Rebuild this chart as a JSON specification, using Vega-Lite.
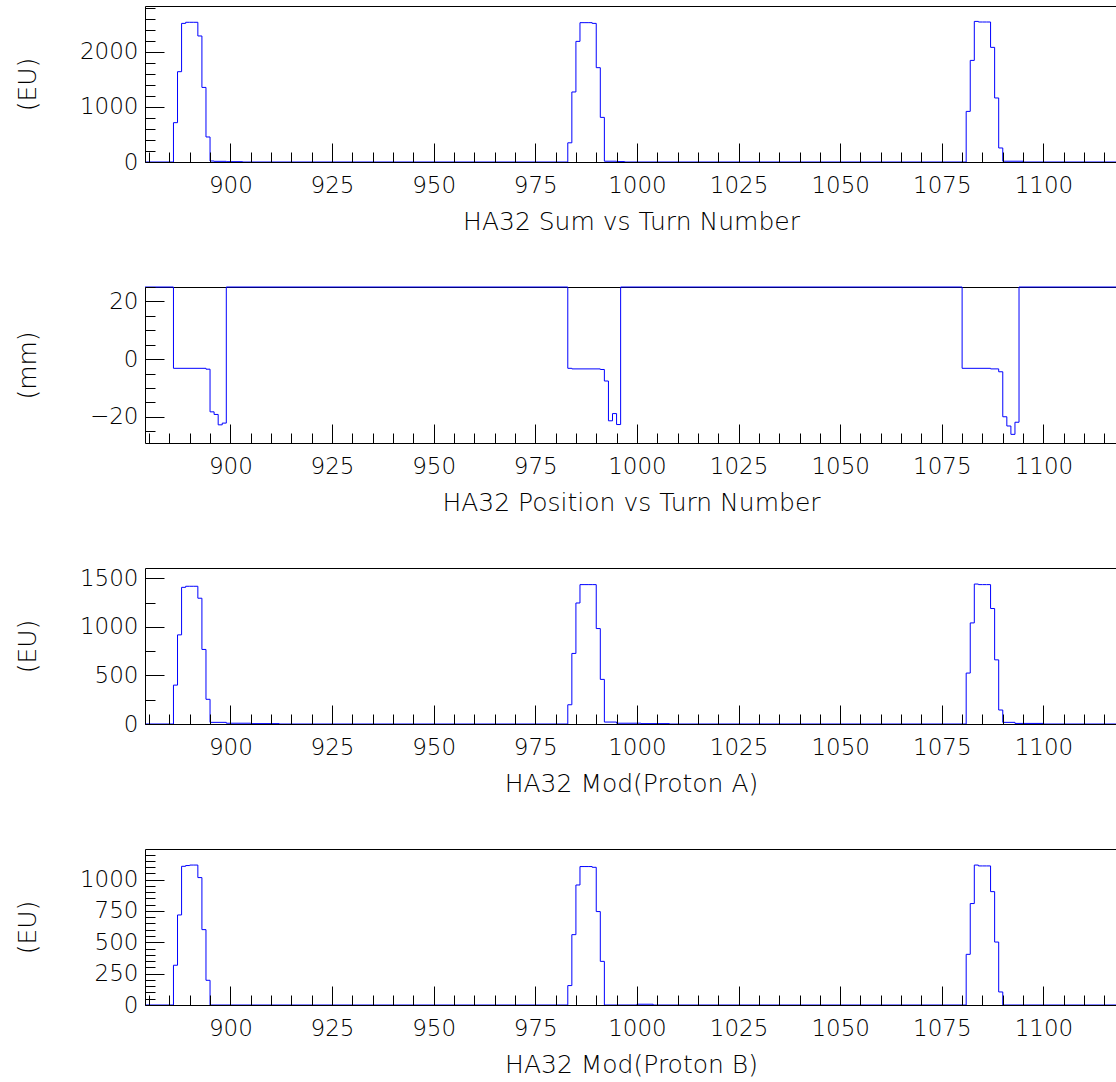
{
  "$schema": "https://vega.github.io/schema/vega-lite/v6.json",
  "padding": {"left": 15, "top": -4, "right": 0, "bottom": 0},
  "bounds": "flush",
  "spacing": 125,
  "datasets": {
    "sum": [{"t":879,"v":0},{"t":886,"v":715},{"t":887,"v":1642},{"t":888,"v":2520},{"t":889,"v":2540},{"t":890,"v":2540},{"t":891,"v":2540},{"t":892,"v":2291},{"t":893,"v":1356},{"t":894,"v":455},{"t":895,"v":18},{"t":896,"v":12},{"t":899,"v":6},{"t":903,"v":0},{"t":983,"v":349},{"t":984,"v":1273},{"t":985,"v":2193},{"t":986,"v":2533},{"t":987,"v":2533},{"t":988,"v":2533},{"t":989,"v":2520},{"t":990,"v":1715},{"t":991,"v":811},{"t":992,"v":14},{"t":995,"v":8},{"t":997,"v":0},{"t":1081,"v":920},{"t":1082,"v":1847},{"t":1083,"v":2556},{"t":1084,"v":2545},{"t":1085,"v":2545},{"t":1086,"v":2545},{"t":1087,"v":2084},{"t":1088,"v":1164},{"t":1089,"v":255},{"t":1090,"v":14},{"t":1095,"v":0},{"t":1118.1,"v":0}],
    "pos": [{"t":879,"v":25},{"t":886,"v":-3.2},{"t":894,"v":-3.5},{"t":895,"v":-18.3},{"t":896,"v":-19.2},{"t":897,"v":-22.8},{"t":898,"v":-22.2},{"t":899,"v":25},{"t":983,"v":-3.2},{"t":984,"v":-3.4},{"t":991,"v":-3.6},{"t":992,"v":-7.6},{"t":993,"v":-21.4},{"t":994,"v":-18.9},{"t":995,"v":-22.7},{"t":996,"v":25},{"t":1080,"v":-3.2},{"t":1087,"v":-3.4},{"t":1089,"v":-4.4},{"t":1090,"v":-20},{"t":1091,"v":-23.2},{"t":1092,"v":-26.1},{"t":1093,"v":-21.9},{"t":1094,"v":25},{"t":1118.1,"v":25}],
    "protonA": [{"t":879,"v":0},{"t":886,"v":400},{"t":887,"v":917},{"t":888,"v":1406},{"t":889,"v":1417},{"t":890,"v":1417},{"t":891,"v":1417},{"t":892,"v":1294},{"t":893,"v":767},{"t":894,"v":254},{"t":895,"v":17},{"t":899,"v":8},{"t":905,"v":4},{"t":912,"v":0},{"t":983,"v":198},{"t":984,"v":726},{"t":985,"v":1245},{"t":986,"v":1434},{"t":987,"v":1434},{"t":988,"v":1434},{"t":989,"v":1434},{"t":990,"v":982},{"t":991,"v":459},{"t":992,"v":20},{"t":995,"v":8},{"t":1001,"v":4},{"t":1008,"v":0},{"t":1081,"v":524},{"t":1082,"v":1040},{"t":1083,"v":1440},{"t":1084,"v":1434},{"t":1085,"v":1434},{"t":1086,"v":1434},{"t":1087,"v":1188},{"t":1088,"v":660},{"t":1089,"v":144},{"t":1090,"v":17},{"t":1093,"v":6},{"t":1100,"v":0},{"t":1118.1,"v":0}],
    "protonB": [{"t":879,"v":0},{"t":886,"v":317},{"t":887,"v":718},{"t":888,"v":1106},{"t":889,"v":1112},{"t":890,"v":1116},{"t":891,"v":1116},{"t":892,"v":1016},{"t":893,"v":601},{"t":894,"v":197},{"t":895,"v":0},{"t":983,"v":155},{"t":984,"v":561},{"t":985,"v":957},{"t":986,"v":1104},{"t":987,"v":1104},{"t":988,"v":1104},{"t":989,"v":1098},{"t":990,"v":745},{"t":991,"v":348},{"t":992,"v":0},{"t":1000,"v":6},{"t":1004,"v":0},{"t":1081,"v":404},{"t":1082,"v":809},{"t":1083,"v":1116},{"t":1084,"v":1109},{"t":1085,"v":1109},{"t":1086,"v":1109},{"t":1087,"v":904},{"t":1088,"v":502},{"t":1089,"v":104},{"t":1090,"v":0},{"t":1118.1,"v":0}]
  },
  "vconcat": [
    {
      "data": {"name": "sum"},
      "width": 972, "height": 156,
      "layer": [
        {
          "mark": {"type": "line", "interpolate": "step-after", "color": "#0000ff", "strokeWidth": 1},
          "encoding": {
            "x": {"field": "t", "type": "quantitative", "scale": {"domain": [879, 1118.1], "nice": false, "zero": false},
              "axis": {"orient": "bottom", "values": [880,885,890,895,900,905,910,915,920,925,930,935,940,945,950,955,960,965,970,975,980,985,990,995,1000,1005,1010,1015,1020,1025,1030,1035,1040,1045,1050,1055,1060,1065,1070,1075,1080,1085,1090,1095,1100,1105,1110,1115],
                "format": "d", "labelExpr": "datum.value % 25 === 0 ? datum.label : ''",
                "tickSize": {"condition": {"test": "datum.value % 25 === 0", "value": -19}, "value": -10},
                "labelPadding": 31, "title": "HA32 Sum vs Turn Number", "titleY": 59, "titleBaseline": "middle", "zindex": 1}},
            "y": {"field": "v", "type": "quantitative", "scale": {"domain": [0, 2836], "nice": false},
              "axis": {"orient": "left", "values": [0,200,400,600,800,1000,1200,1400,1600,1800,2000,2200,2400,2600,2800],
                "format": "d", "labelExpr": "datum.value % 1000 === 0 ? datum.label : ''",
                "tickSize": {"condition": {"test": "datum.value % 1000 === 0", "value": -19}, "value": -10},
                "labelPadding": 26, "title": "(EU)", "titleX": -118, "titleY": 78, "titleAngle": -90, "titleAlign": "center", "titleBaseline": "middle", "zindex": 1}}
          }
        },
        {
          "mark": {"type": "line", "opacity": 0},
          "encoding": {
            "x": {"field": "t", "type": "quantitative", "axis": {"orient": "top", "ticks": false, "labels": false, "title": null, "zindex": 0}},
            "y": {"field": "v", "type": "quantitative", "axis": null}
          }
        }
      ],
      "resolve": {"axis": {"x": "independent", "y": "independent"}}
    },
    {
      "data": {"name": "pos"},
      "width": 972, "height": 156,
      "layer": [
        {
          "mark": {"type": "line", "interpolate": "step-after", "color": "#0000ff", "strokeWidth": 1},
          "encoding": {
            "x": {"field": "t", "type": "quantitative", "scale": {"domain": [879, 1118.1], "nice": false, "zero": false},
              "axis": {"orient": "bottom", "values": [880,885,890,895,900,905,910,915,920,925,930,935,940,945,950,955,960,965,970,975,980,985,990,995,1000,1005,1010,1015,1020,1025,1030,1035,1040,1045,1050,1055,1060,1065,1070,1075,1080,1085,1090,1095,1100,1105,1110,1115],
                "format": "d", "labelExpr": "datum.value % 25 === 0 ? datum.label : ''",
                "tickSize": {"condition": {"test": "datum.value % 25 === 0", "value": -19}, "value": -10},
                "labelPadding": 31, "title": "HA32 Position vs Turn Number", "titleY": 59, "titleBaseline": "middle", "zindex": 1}},
            "y": {"field": "v", "type": "quantitative", "scale": {"domain": [-29.1, 25], "nice": false, "zero": false},
              "axis": {"orient": "left", "values": [-25,-20,-15,-10,-5,0,5,10,15,20,25],
                "format": "d", "labelExpr": "datum.value % 20 === 0 ? datum.label : ''",
                "tickSize": {"condition": {"test": "datum.value % 20 === 0", "value": -19}, "value": -10},
                "labelPadding": 26, "title": "(mm)", "titleX": -118, "titleY": 78, "titleAngle": -90, "titleAlign": "center", "titleBaseline": "middle", "zindex": 1}}
          }
        },
        {
          "mark": {"type": "line", "opacity": 0},
          "encoding": {
            "x": {"field": "t", "type": "quantitative", "axis": {"orient": "top", "ticks": false, "labels": false, "title": null, "zindex": 0}},
            "y": {"field": "v", "type": "quantitative", "axis": null}
          }
        }
      ],
      "resolve": {"axis": {"x": "independent", "y": "independent"}}
    },
    {
      "data": {"name": "protonA"},
      "width": 972, "height": 156,
      "layer": [
        {
          "mark": {"type": "line", "interpolate": "step-after", "color": "#0000ff", "strokeWidth": 1},
          "encoding": {
            "x": {"field": "t", "type": "quantitative", "scale": {"domain": [879, 1118.1], "nice": false, "zero": false},
              "axis": {"orient": "bottom", "values": [880,885,890,895,900,905,910,915,920,925,930,935,940,945,950,955,960,965,970,975,980,985,990,995,1000,1005,1010,1015,1020,1025,1030,1035,1040,1045,1050,1055,1060,1065,1070,1075,1080,1085,1090,1095,1100,1105,1110,1115],
                "format": "d", "labelExpr": "datum.value % 25 === 0 ? datum.label : ''",
                "tickSize": {"condition": {"test": "datum.value % 25 === 0", "value": -19}, "value": -10},
                "labelPadding": 31, "title": "HA32 Mod(Proton A)", "titleY": 59, "titleBaseline": "middle", "zindex": 1}},
            "y": {"field": "v", "type": "quantitative", "scale": {"domain": [0, 1605], "nice": false},
              "axis": {"orient": "left", "values": [0,250,500,750,1000,1250,1500],
                "format": "d", "labelExpr": "datum.value % 500 === 0 ? datum.label : ''",
                "tickSize": {"condition": {"test": "datum.value % 500 === 0", "value": -19}, "value": -10},
                "labelPadding": 26, "title": "(EU)", "titleX": -118, "titleY": 78, "titleAngle": -90, "titleAlign": "center", "titleBaseline": "middle", "zindex": 1}}
          }
        },
        {
          "mark": {"type": "line", "opacity": 0},
          "encoding": {
            "x": {"field": "t", "type": "quantitative", "axis": {"orient": "top", "ticks": false, "labels": false, "title": null, "zindex": 0}},
            "y": {"field": "v", "type": "quantitative", "axis": null}
          }
        }
      ],
      "resolve": {"axis": {"x": "independent", "y": "independent"}}
    },
    {
      "data": {"name": "protonB"},
      "width": 972, "height": 156,
      "layer": [
        {
          "mark": {"type": "line", "interpolate": "step-after", "color": "#0000ff", "strokeWidth": 1},
          "encoding": {
            "x": {"field": "t", "type": "quantitative", "scale": {"domain": [879, 1118.1], "nice": false, "zero": false},
              "axis": {"orient": "bottom", "values": [880,885,890,895,900,905,910,915,920,925,930,935,940,945,950,955,960,965,970,975,980,985,990,995,1000,1005,1010,1015,1020,1025,1030,1035,1040,1045,1050,1055,1060,1065,1070,1075,1080,1085,1090,1095,1100,1105,1110,1115],
                "format": "d", "labelExpr": "datum.value % 25 === 0 ? datum.label : ''",
                "tickSize": {"condition": {"test": "datum.value % 25 === 0", "value": -19}, "value": -10},
                "labelPadding": 31, "title": "HA32 Mod(Proton B)", "titleY": 59, "titleBaseline": "middle", "zindex": 1}},
            "y": {"field": "v", "type": "quantitative", "scale": {"domain": [0, 1244], "nice": false},
              "axis": {"orient": "left", "values": [0,50,100,150,200,250,300,350,400,450,500,550,600,650,700,750,800,850,900,950,1000,1050,1100,1150,1200],
                "format": "d", "labelExpr": "datum.value % 250 === 0 ? datum.label : ''",
                "tickSize": {"condition": {"test": "datum.value % 250 === 0", "value": -19}, "value": -10},
                "labelPadding": 26, "title": "(EU)", "titleX": -118, "titleY": 78, "titleAngle": -90, "titleAlign": "center", "titleBaseline": "middle", "zindex": 1}}
          }
        },
        {
          "mark": {"type": "line", "opacity": 0},
          "encoding": {
            "x": {"field": "t", "type": "quantitative", "axis": {"orient": "top", "ticks": false, "labels": false, "title": null, "zindex": 0}},
            "y": {"field": "v", "type": "quantitative", "axis": null}
          }
        }
      ],
      "resolve": {"axis": {"x": "independent", "y": "independent"}}
    }
  ],
  "config": {
    "font": "DejaVu Sans",
    "view": {"stroke": null},
    "axis": {
      "grid": false,
      "domainColor": "black", "domainWidth": 1,
      "tickColor": "black", "tickWidth": 1,
      "labelColor": "black", "labelFont": "DejaVu Sans", "labelFontSize": 23, "labelFontWeight": 200,
      "labelFlush": false, "labelOverlap": false,
      "titleColor": "black", "titleFont": "DejaVu Sans", "titleFontSize": 25, "titleFontWeight": 200
    }
  }
}
